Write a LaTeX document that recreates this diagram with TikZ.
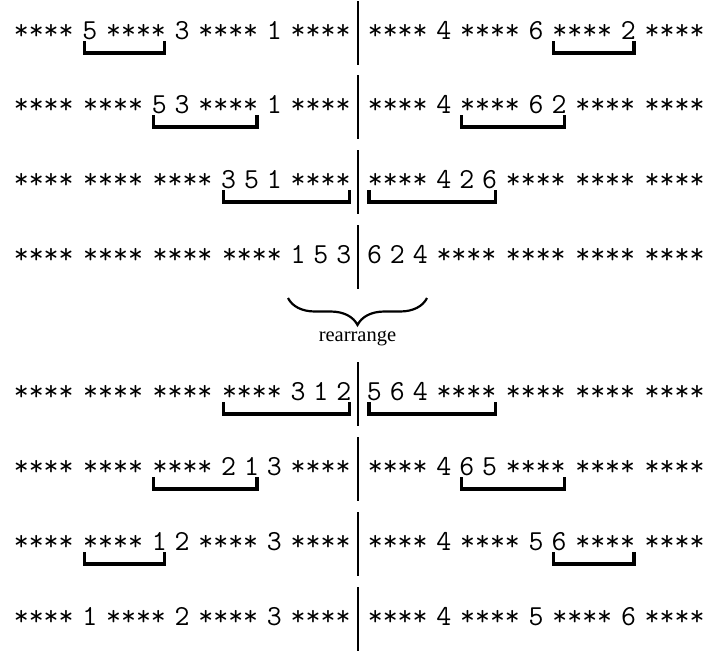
\documentclass[tikz,border=0pt]{standalone}
\usepackage{fontspec}
\newfontfamily\rmtimes{Liberation Serif}
\usetikzlibrary{positioning,decorations.pathreplacing}
\tikzset{
  itemnode/.style={inner sep=0pt, font=\fontsize{29}{32}\selectfont\ttfamily},
  brk/.style={line width=3.2pt, line join=miter},
  divider/.style={line width=1.6pt},
  bracebar/.style={decorate, decoration={brace, amplitude=27pt, mirror}, line width=2.2pt},
  lbl/.style={font=\rmtimes\fontsize{20.5}{24}\selectfont, inner sep=0pt, anchor=base},
}
\def\myB{B}
\newcommand\itm[1]{\edef\itmtmp{#1}\ifx\itmtmp\myB\makebox[57pt]{****}\else\makebox[10.5pt]{#1}\fi}
\newcommand\halfrow[4]{%
  \foreach \t [count=\i] in {#4} {
    \ifnum\i=1
      \node[itemnode, anchor=base west] (#1-\i) at (#2,#3) {\itm{\t}};
    \else
      \pgfmathtruncatemacro\prv{\i-1}
      \node[itemnode, base right=12pt of #1-\prv] (#1-\i) {\itm{\t}};
    \fi
  }}
\newcommand\mkbrk[2]{\draw[brk] ([yshift=-2pt]#1.base west) -- ([yshift=-14pt]#1.base west) -| ([yshift=-2pt]#2.base east);}
\begin{document}
\begin{tikzpicture}[x=1pt,y=-1pt]
\useasboundingbox (0,0) rectangle (707,651);
\halfrow{L1}{15}{39}{B,5,B,3,B,1,B}
\halfrow{R1}{369}{39}{B,4,B,6,B,2,B}
\halfrow{L2}{15}{113}{B,B,5,3,B,1,B}
\halfrow{R2}{369}{113}{B,4,B,6,2,B,B}
\halfrow{L3}{15}{188}{B,B,B,3,5,1,B}
\halfrow{R3}{369}{188}{B,4,2,6,B,B,B}
\halfrow{L4}{15}{263}{B,B,B,B,1,5,3}
\halfrow{R4}{369}{263}{6,2,4,B,B,B,B}
\halfrow{L5}{15}{400}{B,B,B,B,3,1,2}
\halfrow{R5}{369}{400}{5,6,4,B,B,B,B}
\halfrow{L6}{15}{475}{B,B,B,2,1,3,B}
\halfrow{R6}{369}{475}{B,4,6,5,B,B,B}
\halfrow{L7}{15}{550}{B,B,1,2,B,3,B}
\halfrow{R7}{369}{550}{B,4,B,5,6,B,B}
\halfrow{L8}{15}{625}{B,1,B,2,B,3,B}
\halfrow{R8}{369}{625}{B,4,B,5,B,6,B}
\mkbrk{L1-2}{L1-3}
\mkbrk{R1-5}{R1-6}
\mkbrk{L2-3}{L2-5}
\mkbrk{R2-3}{R2-5}
\mkbrk{L3-4}{L3-7}
\mkbrk{R3-1}{R3-4}
\mkbrk{L5-4}{L5-7}
\mkbrk{R5-1}{R5-4}
\mkbrk{L6-3}{L6-5}
\mkbrk{R6-3}{R6-5}
\mkbrk{L7-2}{L7-3}
\mkbrk{R7-5}{R7-6}
\foreach \b in {39,113,188,263,400,475,550,625}
  \draw[divider] (358,\b-38) -- (358,\b+26);
\coordinate (bl) at (288,298);
\coordinate (br) at (427,298);
\draw[bracebar] (bl) -- (br);
\node[lbl] (rearr) at (357.5,341) {rearrange};
\end{tikzpicture}
\end{document}
